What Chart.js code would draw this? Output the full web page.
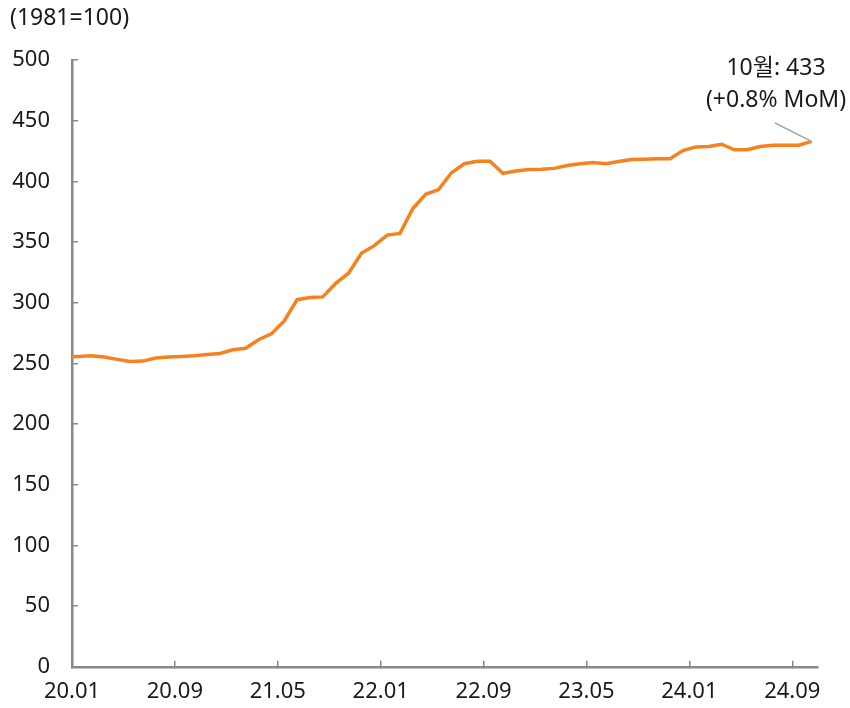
<!DOCTYPE html>
<html>
<head>
<meta charset="utf-8">
<script src="https://cdn.jsdelivr.net/npm/chart.js@4.4.1/dist/chart.umd.min.js"></script>
<style>
  html, body { margin: 0; padding: 0; background: #fff; }
  #wrap { width: 850px; height: 708px; }
</style>
</head>
<body>
<div id="wrap"><canvas id="myChart"></canvas></div>
<script>
// monthly index, 1981=100 (first point only shows as the stub at the y axis)
let months = [
  "19.12",
  "20.01", "20.02", "20.03", "20.04", "20.05", "20.06", "20.07", "20.08", "20.09", "20.10", "20.11", "20.12",
  "21.01", "21.02", "21.03", "21.04", "21.05", "21.06", "21.07", "21.08", "21.09", "21.10", "21.11", "21.12",
  "22.01", "22.02", "22.03", "22.04", "22.05", "22.06", "22.07", "22.08", "22.09", "22.10", "22.11", "22.12",
  "23.01", "23.02", "23.03", "23.04", "23.05", "23.06", "23.07", "23.08", "23.09", "23.10", "23.11", "23.12",
  "24.01", "24.02", "24.03", "24.04", "24.05", "24.06", "24.07", "24.08", "24.09", "24.10"
];
let values = [
  255.3,
  255.7, 256.3, 255.2, 253.3, 251.6, 251.9, 254.4, 255.2, 255.7, 256.3, 257.4, 258.2,
  261.2, 262.5, 269.5, 274.3, 285.0, 302.5, 304.3, 304.8, 316.0, 324.3, 340.7, 347.0,
  355.7, 357.1, 377.6, 389.3, 393.2, 407.1, 414.5, 416.5, 416.6, 406.6, 408.6, 409.8,
  410.0, 410.7, 413.1, 414.5, 415.6, 414.5, 416.4, 418.0, 418.3, 418.6, 418.6, 425.4,
  428.4, 428.7, 430.6, 426.0, 426.0, 428.7, 429.8, 429.8, 429.8, 433.0
];
let tickLabels = ["20.01", "20.09", "21.05", "22.01", "22.09", "23.05", "24.01", "24.09"];
let axisEnd = "24.11";
let unitLabel = "(1981=100)";
let noteLines = ["10월: 433", "(+0.8% MoM)"];

const FONT = '"Noto Sans", "Noto Sans CJK KR", sans-serif';
const TEXT = "#1a1a1a";
const AXIS = "#888888";

// months counted from the start of 20.01
function monthPos(label) {
  let parts = label.split(".").map(Number);
  return (parts[0] - 20) * 12 + (parts[1] - 1);
}

// points sit in the middle of their month
let points = months.map(function (m, i) {
  return { x: monthPos(m) + 0.5, y: values[i] };
});

const textPlugin = {
  id: "texts",
  afterDraw(chart) {
    const ctx = chart.ctx;
    ctx.save();
    ctx.fillStyle = TEXT;
    ctx.font = "23px " + FONT;
    ctx.textBaseline = "middle";
    ctx.textAlign = "left";
    ctx.fillText(unitLabel, 10, 18);

    ctx.font = "23px " + FONT;
    ctx.textAlign = "center";
    ctx.fillText(noteLines[0], 776, 68);
    ctx.fillText(noteLines[1], 776, 100);

    // leader line to the last point
    const meta = chart.getDatasetMeta(0);
    const last = meta.data[meta.data.length - 1];
    ctx.strokeStyle = "#a6a6a6";
    ctx.lineWidth = 1.5;
    ctx.beginPath();
    ctx.moveTo(775, 123);
    ctx.lineTo(last.x, last.y);
    ctx.stroke();
    ctx.restore();
  },
};

const config = {
  type: "line",
  data: {
    datasets: [
      {
        data: points,
        borderColor: "#F5821F",
        borderWidth: 3.5,
        pointRadius: 0,
        tension: 0,
        clip: { left: 0, top: false, right: false, bottom: false },
      },
    ],
  },
  options: {
    responsive: true,
    maintainAspectRatio: false,
    animation: false,
    layout: { padding: { left: 0, right: 32, top: 60, bottom: 0 } },
    plugins: {
      legend: { display: false },
      tooltip: { enabled: false },
    },
    scales: {
      x: {
        type: "linear",
        min: 0,
        max: monthPos(axisEnd),
        afterBuildTicks: function (scale) {
          scale.ticks = tickLabels.map(function (l) {
            return { value: monthPos(l) };
          });
        },
        afterFit: function (scale) {
          scale.height = 39;
        },
        ticks: {
          color: TEXT,
          font: { family: FONT, size: 22 },
          padding: 18,
          maxRotation: 0,
          autoSkip: false,
          callback: function (value) {
            let hit = tickLabels.find(function (l) {
              return monthPos(l) === value;
            });
            return hit || "";
          },
        },
        grid: {
          drawOnChartArea: false,
          drawTicks: true,
          tickLength: -6,
          color: AXIS,
          lineWidth: 1.5,
        },
        border: { display: true, color: AXIS, width: 2.5 },
      },
      y: {
        min: 0,
        max: 500,
        afterFit: function (scale) {
          scale.width = 72;
        },
        ticks: {
          stepSize: 50,
          color: TEXT,
          font: { family: FONT, size: 22 },
          padding: 28,
        },
        grid: {
          drawOnChartArea: false,
          drawTicks: true,
          tickLength: -6,
          color: AXIS,
          lineWidth: 1.5,
        },
        border: { display: true, color: AXIS, width: 2.5 },
      },
    },
  },
  plugins: [textPlugin],
};

const myChart = new Chart(document.getElementById("myChart"), config);
</script>
</body>
</html>
